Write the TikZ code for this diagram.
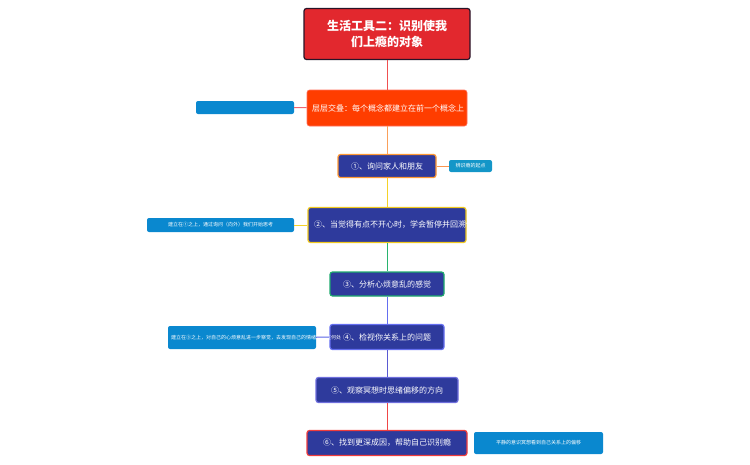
\documentclass[tikz,border=0pt]{standalone}
\usepackage{fontspec}
\setmainfont{Noto Sans CJK SC}
\begin{document}
\begin{tikzpicture}[x=1pt,y=-1pt,
  box/.style={draw, line width=1.2pt, rounded corners=2.5pt, fill=dblue, text=white, font=\fontsize{8}{10}\selectfont, inner sep=0pt, align=left},
  lab/.style={rounded corners=2pt, fill=lblue, text=white, font=\fontsize{5}{6.5}\selectfont, inner sep=0pt, align=left},
  con/.style={line width=1pt}]
\definecolor{dblue}{HTML}{2E3A9C}
\definecolor{lblue}{HTML}{0A88CF}
\useasboundingbox (0,0) rectangle (750,464);
\node[box, fill={rgb,255:red,226;green,40;blue,46}, draw={rgb,255:red,40;green,20;blue,40}, minimum width=166pt, minimum height=51pt, align=center, font=\fontsize{12}{16}\bfseries\selectfont] (root) at (387,34) {生活工具二：识别使我\\们上瘾的对象};
\node[box, fill={rgb,255:red,255;green,61;blue,0}, draw={rgb,255:red,255;green,110;blue,90}, line width=0.6pt, minimum width=160pt, minimum height=36pt, text width=150pt] (layer) at (387,108) {层层交叠：每个概念都建立在前一个概念上};
\node[lab, minimum width=98pt, minimum height=13pt] (blank) at (245,107.5) {};
\node[box, draw=orange!80, minimum width=98pt, minimum height=23pt, align=center] (s1) at (387,166) {①、询问家人和朋友};
\node[lab, fill={rgb,255:red,20;green,150;blue,200}, minimum width=43pt, minimum height=12pt, align=center] (l1) at (470.5,166) {辨识瘾的起点};
\node[box, draw={rgb,255:red,240;green,200;blue,30}, minimum width=158pt, minimum height=35pt, text width=146pt] (s2) at (387,225) {②、当觉得有点不开心时，学会暂停并回溯你的思绪};
\node[lab, minimum width=147pt, minimum height=14pt, align=center] (l2) at (220.5,225) {建立在①之上，通过询问（向外）我们开始思考};
\node[box, draw={rgb,255:red,30;green,170;blue,110}, minimum width=114pt, minimum height=24pt, align=center] (s3) at (387,284) {③、分析心烦意乱的感觉};
\node[box, draw={rgb,255:red,100;green,110;blue,240}, minimum width=114pt, minimum height=25pt, align=center] (s4) at (387,337) {④、检视你关系上的问题};
\node[lab, minimum width=148pt, minimum height=23pt, text width=142pt] (l4) at (242,337.5) {建立在③之上，对自己的心烦意乱进一步察觉，去发现自己的情绪源头在何处};
\node[box, draw={rgb,255:red,110;green,110;blue,220}, minimum width=142pt, minimum height=25pt, align=center] (s5) at (387,390) {⑤、观察冥想时思绪偏移的方向};
\node[box, draw={rgb,255:red,240;green,60;blue,60}, minimum width=160pt, minimum height=25pt, align=center] (s6) at (387,443) {⑥、找到更深成因，帮助自己识别瘾};
\node[lab, minimum width=129pt, minimum height=22pt, align=center] (l6) at (538.5,443) {平静的意识冥想看到自己关系上的偏移};
\draw[con, draw={rgb,255:red,240;green,80;blue,80}] (root) -- (layer);
\draw[con, draw={rgb,255:red,240;green,100;blue,110}] (layer) -- (blank);
\draw[con, draw={rgb,255:red,250;green,160;blue,90}] (layer) -- (s1);
\draw[con, draw={rgb,255:red,250;green,150;blue,80}] (s1) -- (l1);
\draw[con, draw={rgb,255:red,245;green,210;blue,40}] (s1) -- (s2);
\draw[con, draw={rgb,255:red,245;green,210;blue,40}] (s2) -- (l2);
\draw[con, draw={rgb,255:red,40;green,180;blue,110}] (s2) -- (s3);
\draw[con, draw={rgb,255:red,100;green,110;blue,240}] (s3) -- (s4);
\draw[con, draw={rgb,255:red,90;green,100;blue,230}] (s4) -- (l4);
\draw[con, draw={rgb,255:red,90;green,90;blue,210}] (s4) -- (s5);
\draw[con, draw={rgb,255:red,240;green,70;blue,70}] (s5) -- (s6);
\end{tikzpicture}
\end{document}
